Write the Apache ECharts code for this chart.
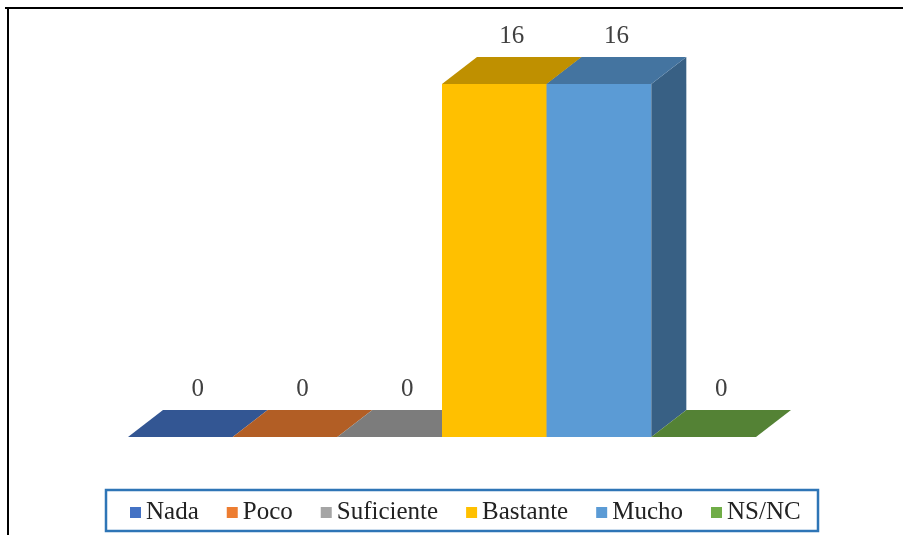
<!DOCTYPE html>
<html>
<head>
<meta charset="utf-8">
<script src="https://cdn.jsdelivr.net/npm/echarts@6/dist/echarts.min.js"></script>
<style>
  html, body { margin: 0; padding: 0; background: #fff; }
  #chart { width: 903px; height: 535px; }
</style>
</head>
<body>
<div id="chart"></div>
<script>
"use strict";

var categories = ["Nada", "Poco", "Suficiente", "Bastante", "Mucho", "NS/NC"];
var values = [0, 0, 0, 16, 16, 0];
var colors = ["#4472C4", "#ED7D31", "#A5A5A5", "#FFC000", "#5B9BD5", "#70AD47"];

// 3d depth of each bar, in pixels
var DEPTH_X = 35;
var DEPTH_Y = -27;

function shade(hex, k) {
  var n = parseInt(hex.slice(1), 16);
  var r = Math.round(((n >> 16) & 255) * k);
  var g = Math.round(((n >> 8) & 255) * k);
  var b = Math.round((n & 255) * k);
  return "rgb(" + r + "," + g + "," + b + ")";
}

var chart = echarts.init(document.getElementById("chart"));

var series = categories.map(function (name, i) {
  var color = colors[i];
  return {
    name: name,
    type: "custom",
    color: color,
    data: [[i, values[i]]],
    renderItem: function (params, api) {
      var base = api.coord([api.value(0), 0]);
      var top = api.coord([api.value(0), api.value(1)]);
      var w = api.size([1, 0])[0];
      var x0 = base[0] - w / 2;
      var x1 = base[0] + w / 2;
      var yb = base[1];
      var yt = top[1];
      var children = [];
      if (yb - yt > 0.5) {
        children.push({
          type: "polygon",
          shape: { points: [[x0, yt], [x1, yt], [x1, yb], [x0, yb]] },
          style: { fill: color }
        });
        children.push({
          type: "polygon",
          shape: { points: [[x1, yt], [x1 + DEPTH_X, yt + DEPTH_Y], [x1 + DEPTH_X, yb + DEPTH_Y], [x1, yb]] },
          style: { fill: shade(color, 0.62) }
        });
      }
      children.push({
        type: "polygon",
        shape: { points: [[x0, yt], [x0 + DEPTH_X, yt + DEPTH_Y], [x1 + DEPTH_X, yt + DEPTH_Y], [x1, yt]] },
        style: { fill: shade(color, 0.75) }
      });
      children.push({
        type: "text",
        style: {
          text: String(api.value(1)),
          x: base[0] + DEPTH_X / 2,
          y: yt + DEPTH_Y - 21,
          textAlign: "center",
          textVerticalAlign: "middle",
          font: "25px 'Liberation Serif'",
          fill: "#404040"
        }
      });
      return { type: "group", children: children };
    }
  };
});

chart.setOption({
  animation: false,
  grid: { left: 128, right: 147, top: 84, bottom: 98 },
  xAxis: {
    type: "category",
    data: categories,
    show: false
  },
  yAxis: {
    type: "value",
    min: 0,
    max: 16,
    show: false
  },
  legend: {
    bottom: 5,
    left: 125,
    itemWidth: 11,
    itemHeight: 11,
    itemGap: 28,
    icon: "rect",
    textStyle: { fontFamily: "Liberation Serif", fontSize: 25, color: "#222" },
    data: categories
  },
  graphic: [
    { type: "line", shape: { x1: 5, y1: 8, x2: 903, y2: 8 }, style: { stroke: "#000", lineWidth: 2 } },
    { type: "line", shape: { x1: 8, y1: 8, x2: 8, y2: 535 }, style: { stroke: "#000", lineWidth: 2 } },
    { type: "rect", shape: { x: 106, y: 490, width: 712, height: 41 }, style: { fill: "none", stroke: "#2E75B6", lineWidth: 2.5 } }
  ],
  series: series
});
</script>
</body>
</html>
